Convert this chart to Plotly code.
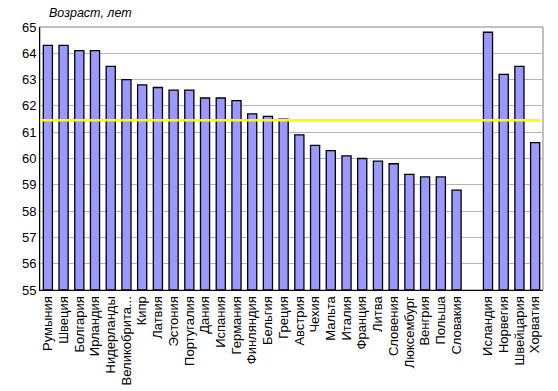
import plotly.graph_objects as go

countries = ["Румыния", "Швеция", "Болгария", "Ирландия", "Нидерланды", "Великобрита...",
             "Кипр", "Латвия", "Эстония", "Португалия", "Дания", "Испания", "Германия",
             "Финляндия", "Бельгия", "Греция", "Австрия", "Чехия", "Мальта", "Италия",
             "Франция", "Литва", "Словения", "Люксембург", "Венгрия", "Польша", "Словакия",
             " ", "Исландия", "Норвегия", "Швейцария", "Хорватия"]
ages = [64.3, 64.3, 64.1, 64.1, 63.5, 63.0, 62.8, 62.7, 62.6, 62.6, 62.3, 62.3, 62.2,
        61.7, 61.6, 61.5, 60.9, 60.5, 60.3, 60.1, 60.0, 59.9, 59.8, 59.4, 59.3, 59.3, 58.8,
        None, 64.8, 63.2, 63.5, 60.6]
eu_average = 61.45
axis_min = 55
y_ticks = list(range(55, 66))

fig = go.Figure()
fig.add_trace(go.Bar(
    x=countries,
    y=[None if a is None else a - axis_min for a in ages],
    base=axis_min,
    marker=dict(color="#9999ff", line=dict(color="black", width=1.3)),
    hoverinfo="skip",
))

fig.add_shape(type="line", xref="paper", yref="y", x0=0, x1=0.996,
              y0=eu_average, y1=eu_average, line=dict(color="#ffff00", width=2.5))

fig.update_layout(
    width=558, height=391,
    margin=dict(l=40, r=15, t=27, b=101),
    paper_bgcolor="white", plot_bgcolor="white",
    bargap=0.42, showlegend=False,
    font=dict(family="Liberation Sans, Arial, sans-serif", size=13, color="black"),
    annotations=[dict(text="<i>Возраст, лет</i>", xref="paper", yref="paper",
                      x=0.014, y=1.0, yshift=5, xanchor="left", yanchor="bottom",
                      showarrow=False, font=dict(size=12.5))],
)
fig.update_xaxes(tickangle=-90, showline=True, linecolor="black", mirror=False,
                 tickmode="array", tickvals=countries, ticktext=countries,
                 ticks="", tickfont=dict(size=13), showgrid=False, automargin=False)
fig.update_yaxes(range=[55, 65], tickvals=y_ticks, showgrid=True, gridcolor="#b4b4b4",
                 gridwidth=1, showline=True, linecolor="black", ticks="",
                 tickfont=dict(size=13), zeroline=False, automargin=False)
fig.add_shape(type="rect", xref="paper", yref="paper", x0=0, x1=1, y0=0, y1=1,
              line=dict(color="#808080", width=1), layer="below")
fig.write_html("out.html", config={"displayModeBar": False},
               post_script="document.body.style.margin='0';")
